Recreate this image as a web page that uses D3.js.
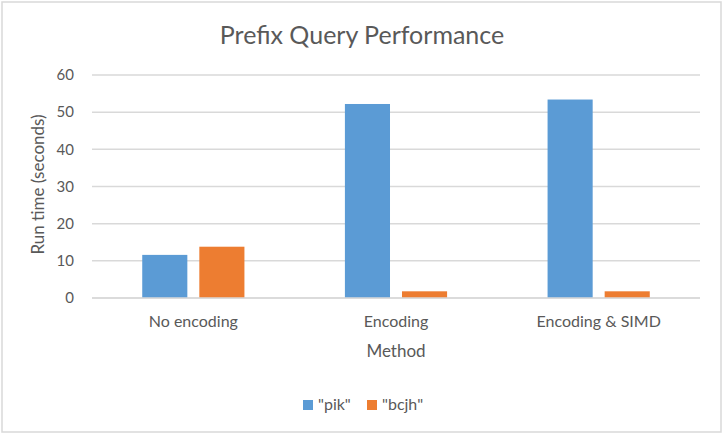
<!DOCTYPE html>
<html>
<head>
<meta charset="utf-8">
<script src="https://cdn.jsdelivr.net/npm/d3@7"></script>
<style>
  body { margin: 0; background: #fff; }
  text { font-family: Lato, "Open Sans", sans-serif; fill: #595959; }
</style>
</head>
<body>
<script>
// data
var categories = ["No encoding", "Encoding", "Encoding & SIMD"];
var seriesNames = ["\"pik\"", "\"bcjh\""];
var pik = [11.6, 52.2, 53.4];
var bcjh = [13.8, 1.8, 1.8];
var yTicks = [0, 10, 20, 30, 40, 50, 60];
var colors = ["#5B9BD5", "#ED7D31"];

var width = 725, height = 436;
var margin = {top: 75, right: 25, bottom: 138, left: 92};

var svg = d3.select("body").append("svg")
    .attr("width", width)
    .attr("height", height);

// chart border
svg.append("rect")
    .attr("x", 2).attr("y", 2)
    .attr("width", 719).attr("height", 430)
    .attr("fill", "#fff")
    .attr("stroke", "#d9d9d9")
    .attr("stroke-width", 1.5);

var x0 = d3.scaleBand()
    .domain(categories)
    .range([margin.left, width - margin.right]);

var x1 = d3.scaleBand()
    .domain(seriesNames)
    .range([0, x0.bandwidth()])
    .paddingInner(0.21)
    .paddingOuter(0.88);

var y = d3.scaleLinear()
    .domain([0, 60])
    .range([height - margin.bottom, margin.top]);

// gridlines
svg.append("g").selectAll("line")
    .data(yTicks)
    .enter().append("line")
    .attr("x1", margin.left)
    .attr("x2", width - margin.right)
    .attr("y1", function(d){ return y(d); })
    .attr("y2", function(d){ return y(d); })
    .attr("stroke", "#d9d9d9")
    .attr("stroke-width", 1.5);

// y tick labels
svg.append("g").selectAll("text")
    .data(yTicks)
    .enter().append("text")
    .attr("x", margin.left - 18)
    .attr("y", function(d){ return y(d); })
    .attr("dy", "0.35em")
    .attr("text-anchor", "end")
    .style("font-size", "15px")
    .text(function(d){ return d; });

// bars
var rows = categories.map(function(c, i){
    return {cat: c, vals: [pik[i], bcjh[i]]};
});

var groups = svg.append("g").selectAll("g")
    .data(rows)
    .enter().append("g")
    .attr("transform", function(d){ return "translate(" + x0(d.cat) + ",0)"; });

groups.selectAll("rect")
    .data(function(d){
        return d.vals.map(function(v, j){ return {name: seriesNames[j], value: v, idx: j}; });
    })
    .enter().append("rect")
    .attr("x", function(d){ return x1(d.name); })
    .attr("width", x1.bandwidth())
    .attr("y", function(d){ return y(d.value); })
    .attr("height", function(d){ return y(0) - y(d.value); })
    .attr("fill", function(d){ return colors[d.idx]; });

// baseline
svg.append("line")
    .attr("x1", margin.left)
    .attr("x2", width - margin.right)
    .attr("y1", y(0))
    .attr("y2", y(0))
    .attr("stroke", "#d9d9d9")
    .attr("stroke-width", 1.5);

// category labels
svg.append("g").selectAll("text")
    .data(categories)
    .enter().append("text")
    .attr("x", function(d){ return x0(d) + x0.bandwidth() / 2; })
    .attr("y", 327)
    .attr("text-anchor", "middle")
    .style("font-size", "16px")
    .text(function(d){ return d; });

// title
svg.append("text")
    .attr("x", 362)
    .attr("y", 44)
    .attr("text-anchor", "middle")
    .style("font-size", "25px")
    .text("Prefix Query Performance");

// axis titles
svg.append("text")
    .attr("x", (margin.left + width - margin.right) / 2)
    .attr("y", 357)
    .attr("text-anchor", "middle")
    .style("font-size", "17px")
    .text("Method");

svg.append("text")
    .attr("transform", "translate(44," + (y(30) - 2) + ") rotate(-90)")
    .attr("text-anchor", "middle")
    .style("font-size", "17px")
    .text("Run time (seconds)");

// legend
var legendX = [303, 367];
var legend = svg.append("g").selectAll("g")
    .data(seriesNames)
    .enter().append("g")
    .attr("transform", function(d, i){ return "translate(" + legendX[i] + ",400)"; });

legend.append("rect")
    .attr("width", 10)
    .attr("height", 10)
    .attr("fill", function(d, i){ return colors[i]; });

legend.append("text")
    .attr("x", 15)
    .attr("y", 9.5)
    .style("font-size", "16px")
    .text(function(d){ return d; });
</script>
</body>
</html>
